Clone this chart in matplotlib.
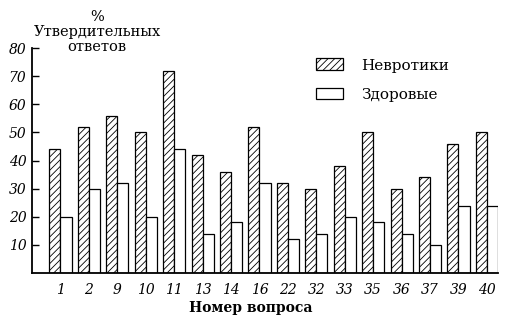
import numpy as np
import matplotlib
matplotlib.use("Agg")
import matplotlib.pyplot as plt
from matplotlib.patches import Patch

questions = ["1", "2", "9", "10", "11", "13", "14", "16", "22", "32", "33", "35", "36", "37", "39", "40"]
neurotics = [44, 52, 56, 50, 72, 42, 36, 52, 32, 30, 38, 50, 30, 34, 46, 50]
healthy = [20, 30, 32, 20, 44, 14, 18, 32, 12, 14, 20, 18, 14, 10, 24, 24]
yticks = [10, 20, 30, 40, 50, 60, 70, 80]

plt.rcParams['font.family'] = ['DejaVu Serif']
plt.rcParams['hatch.linewidth'] = 0.6

fig = plt.figure(figsize=(5.13, 3.25), dpi=100)
ax = fig.add_axes([32/513, 52/325, 466/513, 225/325])

x = np.arange(len(questions))
w = 0.39
ax.bar(x - w/2, neurotics, w, facecolor='white', edgecolor='black', hatch='/////', linewidth=0.9)
ax.bar(x + w/2, healthy, w, facecolor='white', edgecolor='black', linewidth=0.9)

ax.set_xlim(-1.0, len(questions) - 1 + w)
ax.set_ylim(0, 80)
ax.set_yticks(yticks)
ax.set_yticklabels([str(t) for t in yticks], fontstyle='italic', fontsize=10)
ax.set_xticks(x)
ax.set_xticklabels(questions, fontstyle='italic', fontsize=10)
ax.tick_params(axis='y', direction='in', length=5, width=1, pad=4)
ax.tick_params(axis='x', length=0, pad=7)
for s in ['top', 'right']:
    ax.spines[s].set_visible(False)
for s in ['left', 'bottom']:
    ax.spines[s].set_linewidth(1.3)

fig.text(251/513, 1 - 308/325, "Номер вопроса", ha='center', va='center',
         fontweight='bold', fontsize=10)
fig.text(97/513, 1 - 32/325, "%\nУтвердительных\nответов", ha='center', va='center',
         fontsize=10.5, linespacing=1.12)

handles = [Patch(facecolor='white', edgecolor='black', hatch='/////', linewidth=0.9),
           Patch(facecolor='white', edgecolor='black', linewidth=0.9)]
ax.legend(handles, ["Невротики", "Здоровые"], loc='upper left', bbox_to_anchor=(0.58, 1.015),
          frameon=False, fontsize=11, handlelength=1.75, handleheight=0.8,
          handletextpad=1.2, labelspacing=1.0)

fig.savefig("out.png", dpi=100)
